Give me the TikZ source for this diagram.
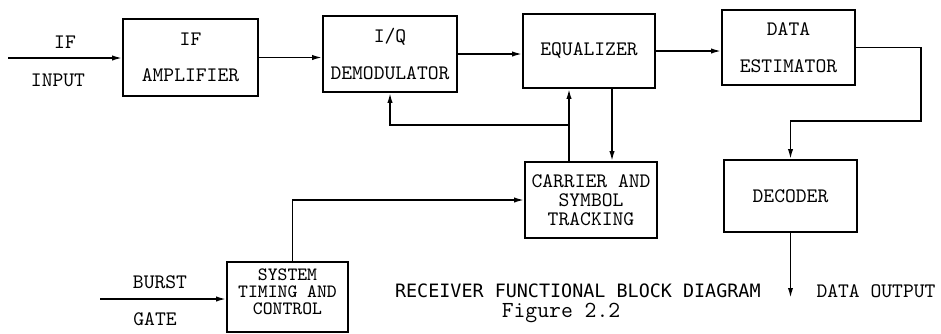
\documentclass[tikz,border=0pt]{standalone}
\usepackage{fontspec}
\newfontfamily\titulofont{DejaVu Sans Mono}
\usetikzlibrary{arrows.meta}

\begin{document}
\begin{tikzpicture}[x=0.5pt, y=-0.5pt,
	bloque/.style={draw, line width=0.8pt, inner sep=0pt, font=\ttfamily\fontsize{10.3}{12}\selectfont, align=center},
	texto/.style={font=\ttfamily\fontsize{10.3}{12}\selectfont, align=center},
	flecha/.style={line width=0.8pt, -{Latex[length=5pt,width=2.6pt]}}
	]
	\useasboundingbox (0,0) rectangle (941,333);

	%Bloques
	\node[bloque, minimum width=67.5pt, minimum height=38.5pt] (amp) at (190.5,57.5) {IF\\[6pt]AMPLIFIER};
	\node[bloque, minimum width=67pt, minimum height=38pt] (iq) at (390,54) {I/Q\\[6.5pt]DEMODULATOR};
	\node[bloque, minimum width=66pt, minimum height=37pt] (eq) at (589,51) {EQUALIZER};
	\node[bloque, minimum width=66.5pt, minimum height=37.5pt] (est) at (788.5,47.5) {DATA\\[6.5pt]ESTIMATOR};
	\node[bloque, minimum width=66pt, minimum height=38pt] (trk) at (591,200) {CARRIER AND\\[-2.5pt]SYMBOL\\[-2.5pt]TRACKING};
	\node[bloque, minimum width=66.5pt, minimum height=36pt] (dec) at (790.5,196) {DECODER};
	\node[bloque, minimum width=60.5pt, minimum height=35pt] (sys) at (287.5,297) {};
	\node[texto, font=\ttfamily\fontsize{9.4}{8.6}\selectfont] (systxt) at (287.5,292) {SYSTEM\\TIMING AND\\CONTROL};

	%Etiquetas
	\node[texto] (ifl) at (65,42) {IF};
	\node[texto] (inl) at (58,80) {INPUT};
	\node[texto] (bl) at (160,282) {BURST};
	\node[texto] (gl) at (155,319) {GATE};
	\node[texto] (outl) at (876,291) {DATA OUTPUT};
	\node[font=\titulofont\fontsize{9.2}{11}\selectfont, anchor=west] (tit) at (388,291) {RECEIVER FUNCTIONAL BLOCK DIAGRAM};
	\node[texto, font=\ttfamily\fontsize{11.5}{12}\selectfont] (fig) at (561,313) {Figure 2.2};

	%Puntos libres
	\coordinate (ifin) at (8,58);
	\coordinate (burst) at (100,299);
	\coordinate (giro) at (921,121);
	\coordinate (dout) at (790.5,298);
	\coordinate (fb) at (569,125);

	%Camino de la senal
	\draw[flecha] (ifin) -- (ifin -| amp.west);
	\draw[flecha] (amp.east) -- (amp.east -| iq.west);
	\draw[flecha] (iq.east) -- (iq.east -| eq.west);
	\draw[flecha] (eq.east) -- (eq.east -| est.west);
	\draw[flecha] (est.east) -| (giro) -| (dec.north);
	\draw[flecha] (dec.south) -- (dout);
	%Seguimiento
	\draw[flecha] ([xshift=-11pt]trk.north) -- ([xshift=-11pt]trk.north |- eq.south);
	\draw[flecha] (fb) -| (iq.south);
	\draw[flecha] ([xshift=11.5pt]eq.south) -- ([xshift=11.5pt]eq.south |- trk.north);
	\draw[flecha] ([xshift=2.5pt]sys.north) |- (trk.west);
	\draw[flecha] (burst) -- (burst -| sys.west);

\end{tikzpicture}
\end{document}
